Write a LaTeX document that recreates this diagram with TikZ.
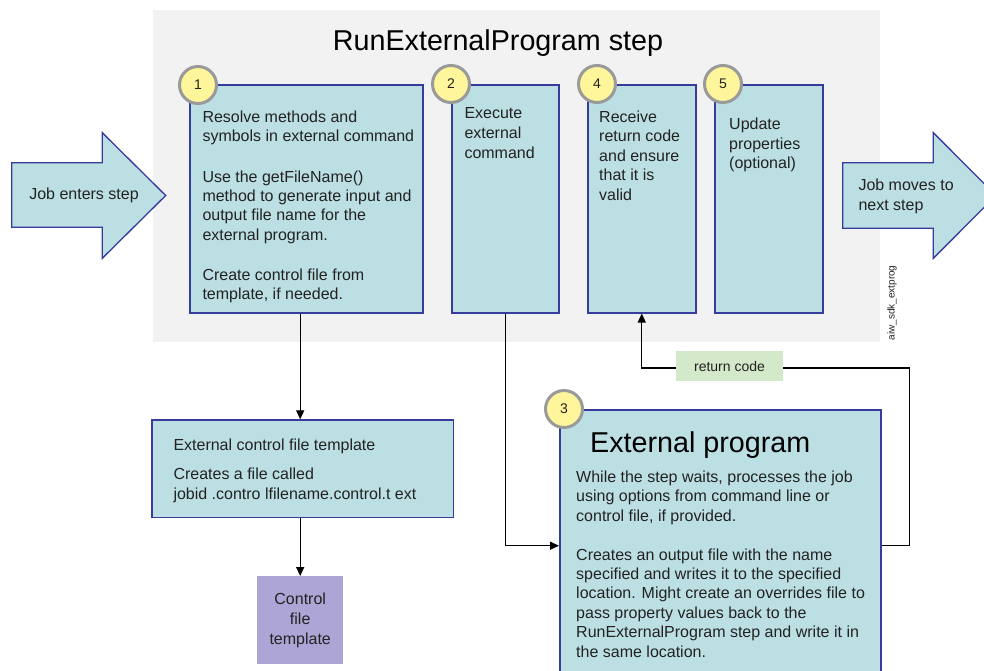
\documentclass[tikz,border=0pt]{standalone}
\usepackage{fontspec}
\setmainfont{Liberation Sans}
\usetikzlibrary{arrows.meta}
\definecolor{bgg}{HTML}{F2F2F2}
\definecolor{boxf}{HTML}{BCDFE3}
\definecolor{boxd}{HTML}{363B9C}
\definecolor{circf}{HTML}{FFF59A}
\definecolor{circd}{HTML}{9A9A9A}
\definecolor{purp}{HTML}{ACA5D5}
\definecolor{greenl}{HTML}{D4E9C9}
\definecolor{txt}{HTML}{222222}
\tikzset{
  stepbox/.style={draw=boxd, fill=boxf, line width=1.5pt, inner sep=0pt, anchor=north west},
  numcirc/.style={circle, draw=circd, fill=circf, line width=3pt, minimum size=37pt, inner sep=0pt,
    font=\fontsize{14}{16}\selectfont, text=txt},
  bodytext/.style={font=\fontsize{16}{19.3}\selectfont, text=txt, align=left, inner sep=0pt, anchor=north west},
  bigarrow/.style={draw=boxd, fill=boxf, line width=1.3pt, line join=miter},
  conn/.style={draw=black, line width=1.3pt, -{Triangle[length=9pt,width=8pt]}},
  plainline/.style={draw=black, line width=1.3pt}
}
\begin{document}
\begin{tikzpicture}[x=1pt,y=-1pt]
\useasboundingbox (0,0) rectangle (984,670);
\clip (0,0) rectangle (984,670);
\fill[white] (0,0) rectangle (984,670);
% grey step area
\fill[bgg] (153,10) rectangle (880,342);
\node[anchor=base, inner sep=0pt, font=\fontsize{28.7}{32}\selectfont, text=black] (title) at (498,50) {RunExternalProgram step};

% entering arrow
\draw[bigarrow] (11.7,162.7) -- (102.3,162.7) -- (102.3,132.7) -- (165.7,195.5) -- (102.3,258.3) -- (102.3,227.3) -- (11.7,227.3) -- cycle;
\node[font=\fontsize{16}{19.3}\selectfont, text=txt, inner sep=0pt] (enter) at (84,195.7) {Job enters step};

% leaving arrow
\draw[bigarrow] (842.7,162.7) -- (933.3,162.7) -- (933.3,132.7) -- (996,195.5) -- (933.3,258.3) -- (933.3,228.3) -- (842.7,228.3) -- cycle;
\node[bodytext] (leave) at (858.3,179) {Job moves to\\[0.7pt]next step};

% watermark id
\node[rotate=90, font=\fontsize{10}{12}\selectfont, text=txt, inner sep=0pt] (wid) at (892,303) {aiw\_sdk\_extprog};

% step boxes
\node[stepbox, minimum width=233pt, minimum height=228pt] (b1) at (189,84) {};
\node[stepbox, minimum width=107pt, minimum height=228pt] (b2) at (451,84) {};
\node[stepbox, minimum width=108pt, minimum height=228pt] (b4) at (587,84) {};
\node[stepbox, minimum width=108pt, minimum height=228pt] (b5) at (714,84) {};

\node[bodytext] (t1) at (202.3,110.7) {Resolve methods and\\symbols in external command\\[21pt]Use the getFileName()\\method to generate input and\\output file name for the\\external program.\\[21pt]Create control file from\\template, if needed.};
\node[bodytext, font=\fontsize{16}{20}\selectfont] (t2) at (464.3,107.3) {Execute\\external\\command};
\node[bodytext, font=\fontsize{16}{19.4}\selectfont] (t4) at (599,110.7) {Receive\\return code\\and ensure\\that it is\\valid};
\node[bodytext] (t5) at (729,118) {Update\\properties\\(optional)};

\node[numcirc] (c1) at (198,85) {1};
\node[numcirc] (c2) at (451,84) {2};
\node[numcirc] (c4) at (597,84) {4};
\node[numcirc] (c5) at (723,84) {5};

% external control file template
\node[stepbox, minimum width=301.7pt, minimum height=97.4pt] (ext) at (151,419.3) {};
\node[bodytext] (text) at (173.3,439) {External control file template\\[9.7pt]Creates a file called\\jobid .contro lfilename.control.t ext};

% control file template
\node[fill=purp, minimum width=86pt, minimum height=88pt, inner sep=0pt, anchor=north west] (ctf) at (257,576) {};
\node[font=\fontsize{16}{19.7}\selectfont, text=txt, align=center, inner sep=0pt] (tctf) at (ctf.center) {Control\\file\\template};

% external program box
\node[stepbox, minimum width=321pt, minimum height=290pt] (b3) at (559,409) {};
\node[numcirc] (c3) at (564,409) {3};
\node[anchor=base west, inner sep=0pt, font=\fontsize{28.7}{32}\selectfont, text=black] (t3h) at (590,452.7) {External program};
\node[bodytext, font=\fontsize{16}{19.4}\selectfont] (t3) at (576,470.7) {While the step waits, processes the job\\using options from command line or\\control file, if provided.\\[19.4pt]Creates an output file with the name\\specified and writes it to the specified\\location. Might create an overrides file to\\pass property values back to the\\RunExternalProgram step and write it in\\the same location.};

% connectors
\coordinate (midy) at (0,545.7);
\coordinate (rcx) at (909.3,368);
\draw[conn] (b1.south -| ctf.north) -- (ext.north -| ctf.north);
\draw[conn] (ext.south -| ctf.north) -- (ctf.north);
\draw[conn] (b2.south) |- (b3.north west |- midy);
\draw[conn] (b3.north east |- midy) -| (rcx) -- (rcx -| b4.south) -- (b4.south);
\node[fill=greenl, minimum width=107pt, minimum height=30pt, inner sep=0pt, font=\fontsize{14}{16}\selectfont, text=txt] (rcl) at (729.5,366) {return code};
\end{tikzpicture}
\end{document}
